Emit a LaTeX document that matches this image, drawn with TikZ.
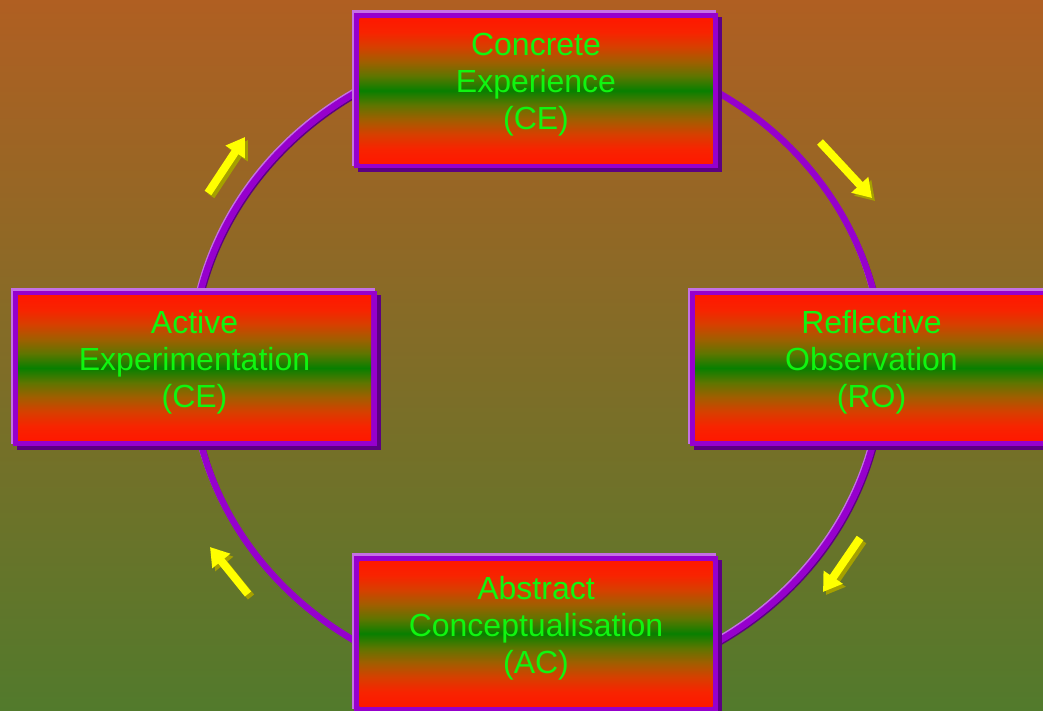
\documentclass[tikz,border=0pt]{standalone}
\usepackage{fontspec}
\setmainfont{Liberation Sans}
\usetikzlibrary{arrows.meta}

\definecolor{bgtop}{RGB}{176,95,34}
\definecolor{bgbot}{RGB}{82,122,44}
\definecolor{ringlight}{RGB}{196,112,228}
\definecolor{ringmain}{RGB}{150,0,205}
\definecolor{ringdark}{RGB}{92,0,130}
\definecolor{labelgreen}{RGB}{16,245,16}
\definecolor{arrowyellow}{RGB}{255,255,0}
\definecolor{arrowshade}{RGB}{165,160,0}

% red - orange - olive - green - olive - orange - red, top to bottom
\pgfdeclareverticalshading{panelshade}{100bp}{%
  rgb(0bp)=(1,0.094,0); rgb(25bp)=(1,0.094,0);
  rgb(30bp)=(0.97,0.14,0); rgb(35bp)=(0.84,0.25,0);
  rgb(40bp)=(0.63,0.37,0); rgb(45bp)=(0.37,0.46,0);
  rgb(50bp)=(0.03,0.5,0);
  rgb(55bp)=(0.37,0.46,0); rgb(60bp)=(0.63,0.37,0);
  rgb(65bp)=(0.84,0.25,0); rgb(70bp)=(0.97,0.14,0);
  rgb(75bp)=(1,0.094,0); rgb(100bp)=(1,0.094,0)}

\tikzset{
  stagelabel/.style={text=labelgreen, font=\fontsize{32}{37}\selectfont, align=center, inner sep=0pt},
  cyclearrow/.style={line width=8pt, -{Triangle[width=22pt,length=18pt]}},
}

% One stage of the cycle: bevelled purple frame with a shaded panel
\newcommand{\stagebox}[4]{%
  \begin{scope}[shift={(#2,#3)}]
    \fill[ringdark]  (-178,-73.5) rectangle (186,81.5);
    \fill[ringlight] (-184,-80.5) rectangle (180,75.5);
    \fill[ringmain]  (-182,-77.5) rectangle (182,77.5);
    \shade[shading=panelshade] (-176.5,-72.5) rectangle (176.5,72.5);
    \node[stagelabel] (#1) at (0,-5.5) {#4};
  \end{scope}}

% Yellow block arrow with a dark drop shadow
\newcommand{\cyclearrowdraw}[2]{%
  \draw[cyclearrow, color=arrowshade] ([shift={(3,3)}]#1) -- ([shift={(3,3)}]#2);
  \draw[cyclearrow, color=arrowyellow] (#1) -- (#2);}

\begin{document}
\begin{tikzpicture}[x=1pt, y=-1pt]
  \useasboundingbox (0,0) rectangle (1043,710);
  \clip (0,0) rectangle (1043,710);
  \shade[top color=bgtop, bottom color=bgbot] (0,0) rectangle (1043,710);

  % the cycle ring
  \draw[ringlight, line width=4pt] (535,365) ellipse [x radius=346, y radius=322];
  \draw[ringdark, line width=4pt] (539,369) ellipse [x radius=346, y radius=322];
  \draw[ringmain, line width=6.5pt] (537,367) ellipse [x radius=346, y radius=322];

  % the four stages
  \stagebox{ce}{536}{90.5}{Concrete\\Experience\\(CE)}
  \stagebox{ro}{871.5}{368}{Reflective\\Observation\\(RO)}
  \stagebox{ac}{536}{633.5}{Abstract\\Conceptualisation\\(AC)}
  \stagebox{ae}{194.5}{368}{Active\\Experimentation\\(CE)}

  % direction of the cycle
  \coordinate (a1s) at (208,193); \coordinate (a1e) at (245,137);
  \coordinate (a2s) at (820,142); \coordinate (a2e) at (872,198);
  \coordinate (a3s) at (860,538); \coordinate (a3e) at (823,592);
  \coordinate (a4s) at (248,594); \coordinate (a4e) at (210,547);
  \cyclearrowdraw{a1s}{a1e}
  \cyclearrowdraw{a2s}{a2e}
  \cyclearrowdraw{a3s}{a3e}
  \cyclearrowdraw{a4s}{a4e}
\end{tikzpicture}
\end{document}
